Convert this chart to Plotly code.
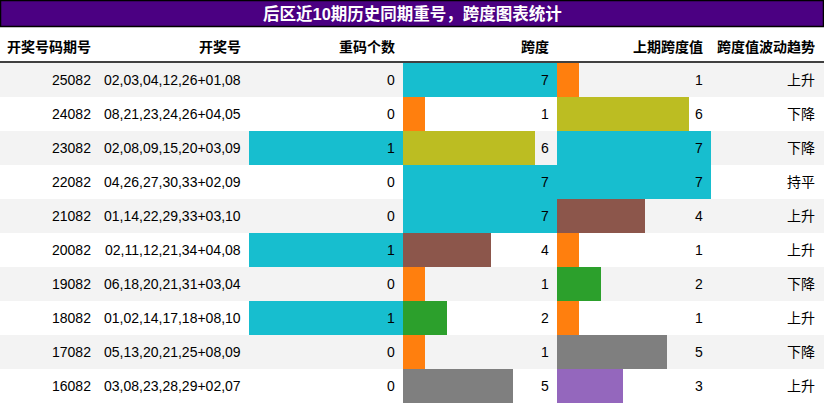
import plotly.graph_objects as go

periods = ['25082', '24082', '23082', '22082', '21082', '20082', '19082', '18082', '17082', '16082']
numbers = ['02,03,04,12,26+01,08', '08,21,23,24,26+04,05', '02,08,09,15,20+03,09',
           '04,26,27,30,33+02,09', '01,14,22,29,33+03,10', '02,11,12,21,34+04,08',
           '06,18,20,21,31+03,04', '01,02,14,17,18+08,10', '05,13,20,21,25+08,09',
           '03,08,23,28,29+02,07']
repeat = [0, 0, 1, 0, 0, 1, 0, 1, 0, 0]
span = [7, 1, 6, 7, 7, 4, 1, 2, 1, 5]
prev_span = [1, 6, 7, 7, 4, 1, 2, 1, 5, 3]
trend = ['上升', '下降', '下降', '持平', '上升', '上升', '下降', '上升', '下降', '上升']
headers = ['开奖号码期号', '开奖号', '重码个数', '跨度', '上期跨度值', '跨度值波动趋势']
title = '后区近10期历史同期重号，跨度图表统计'

palette = ['#1f77b4', '#ff7f0e', '#2ca02c', '#d62728', '#9467bd',
           '#8c564b', '#e377c2', '#7f7f7f', '#bcbd22', '#17becf']

W, H = 824, 404
col_edges = [0, 99, 249, 403, 557, 711, 823]
FONT = 'Liberation Sans, Arial, Noto Sans CJK SC, sans-serif'
rows = list(range(len(periods)))
span_max = max(max(span), max(prev_span))
rep_max = max(repeat)


def colors(vals, vmax):
    return [palette[min(int(v / vmax * 10), 9)] for v in vals]


fig = go.Figure()
bar_cols = [(repeat, rep_max, 'x'), (span, span_max, 'x2'), (prev_span, span_max, 'x3')]
for vals, vmax, ax in bar_cols:
    fig.add_trace(go.Bar(x=vals, y=rows, orientation='h', width=1,
                         marker=dict(color=colors(vals, vmax), line=dict(width=0)),
                         xaxis=ax, yaxis='y', hoverinfo='skip', showlegend=False))

top_px, bot_px = 63, 403
ydom = [(H - bot_px) / H, (H - top_px) / H]
layout = dict(
    width=W, height=H, margin=dict(l=0, r=0, t=0, b=0),
    paper_bgcolor='white', plot_bgcolor='rgba(0,0,0,0)',
    showlegend=False, bargap=0,
    yaxis=dict(domain=ydom, range=[len(rows) - 0.5, -0.5], visible=False, fixedrange=True),
)
axnames = ['xaxis', 'xaxis2', 'xaxis3']
for i, (name, (vals, vmax, ax)) in enumerate(zip(axnames, bar_cols)):
    c0, c1 = col_edges[2 + i], col_edges[3 + i]
    layout[name] = dict(domain=[c0 / W, c1 / W], range=[0, vmax], visible=False,
                        fixedrange=True, anchor='y')
fig.update_layout(**layout)

shapes = []
# alternating row backgrounds
for r in rows:
    if r % 2 == 0:
        shapes.append(dict(type='rect', xref='paper', yref='y', x0=0, x1=1,
                           y0=r - 0.5, y1=r + 0.5, fillcolor='#f3f3f3',
                           line=dict(width=0), layer='below'))
# title bar
shapes.append(dict(type='rect', xref='paper', yref='paper', x0=0.5 / W, x1=1 - 0.5 / W,
                   y0=(H - 26.5) / H, y1=1 - 0.5 / H, fillcolor='#4b0082',
                   line=dict(color='black', width=1.5), layer='above'))
# header separator
shapes.append(dict(type='line', xref='paper', yref='paper', x0=0, x1=1,
                   y0=(H - 62) / H, y1=(H - 62) / H, line=dict(color='black', width=1.5)))
fig.update_layout(shapes=shapes)

ann = []
ann.append(dict(text='<b>' + title + '</b>', xref='paper', yref='paper', x=0.5,
                y=(H - 13.5) / H, showarrow=False, xanchor='center', yanchor='middle',
                font=dict(family=FONT, size=16.5, color='white')))
head_y = (H - 47) / H
for i, h in enumerate(headers):
    ann.append(dict(text='<b>' + h + '</b>', xref='paper', yref='paper',
                    x=col_edges[i + 1] / W, xshift=-6, y=head_y, showarrow=False,
                    xanchor='right', yanchor='middle',
                    font=dict(family=FONT, size=14, color='black')))
text_cols = {0: periods, 1: numbers, 5: trend}
for ci, vals in text_cols.items():
    for r, v in zip(rows, vals):
        ann.append(dict(text=v, xref='paper', yref='y', x=col_edges[ci + 1] / W, xshift=-6,
                        y=r, showarrow=False, xanchor='right', yanchor='middle',
                        font=dict(family=FONT, size=14, color='black')))
for (vals, vmax, ax) in bar_cols:
    for r, v in zip(rows, vals):
        ann.append(dict(text=str(v), xref=ax, yref='y', x=vmax, xshift=-6, y=r,
                        showarrow=False, xanchor='right', yanchor='middle',
                        font=dict(family=FONT, size=14, color='black')))
fig.update_layout(annotations=ann)

fig.write_html('out.html')
